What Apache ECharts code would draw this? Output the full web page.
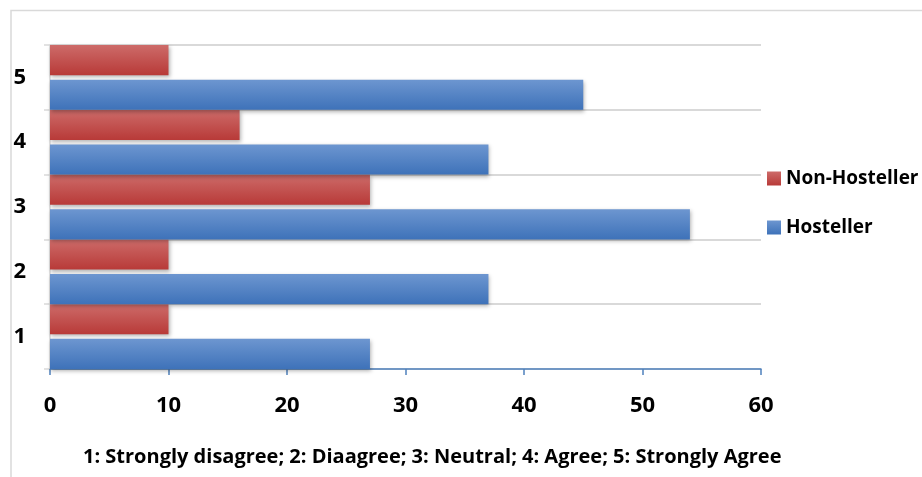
<!DOCTYPE html>
<html>
<head>
<meta charset="utf-8">
<script src="https://cdn.jsdelivr.net/npm/echarts@6/dist/echarts.min.js"></script>
<style>
html,body{margin:0;padding:0;background:#fff;}
#chart{width:922px;height:477px;}
</style>
</head>
<body>
<div id="chart"></div>
<script>
const categories=['1','2','3','4','5'];
const hosteller=[27,37,54,37,45];
const nonHosteller=[10,10,27,16,10];
const xTicks=[0,10,20,30,40,50,60];
const footnote='1: Strongly disagree; 2: Diaagree; 3: Neutral; 4: Agree; 5: Strongly Agree';

const fontName='Open Sans';
const gridColor='#d9d9d9';
const blueAxis='#4f81bd';

const grad=(top,bottom)=>new echarts.graphic.LinearGradient(0,0,0,1,[
    {offset:0,color:top},
    {offset:1,color:bottom}
]);

var myChart=echarts.init(document.getElementById('chart'));
var option={
    backgroundColor:'#fff',
    animation:false,
    textStyle:{fontFamily:fontName},
    title:{
        text:footnote,
        left:78,
        top:442,
        textStyle:{fontSize:20,fontWeight:'bold',color:'#000',fontFamily:fontName}
    },
    graphic:[{
        type:'polyline',
        shape:{points:[[11,477],[11,10.5],[922,10.5]]},
        style:{stroke:gridColor,lineWidth:1.5,fill:null},
        silent:true
    }],
    legend:{
        orient:'vertical',
        left:762,
        top:164,
        itemWidth:14,
        itemHeight:14,
        itemGap:30,
        icon:'rect',
        data:['Non-Hosteller','Hosteller'],
        textStyle:{fontSize:19,fontWeight:'bold',color:'#000',fontFamily:fontName}
    },
    grid:{left:50,right:161,top:45,bottom:108},
    xAxis:{
        type:'value',
        min:xTicks[0],
        max:xTicks[xTicks.length-1],
        interval:10,
        axisLine:{show:true,lineStyle:{color:blueAxis,width:1.5}},
        axisTick:{show:true,length:6,lineStyle:{color:blueAxis,width:1.5}},
        splitLine:{show:false},
        axisLabel:{fontSize:22,fontWeight:'bold',color:'#000',margin:26,fontFamily:fontName}
    },
    yAxis:{
        type:'category',
        data:categories,
        axisLine:{show:true,lineStyle:{color:gridColor,width:1.5}},
        axisTick:{show:true,length:6,lineStyle:{color:gridColor,width:1.5}},
        splitLine:{show:true,lineStyle:{color:gridColor,width:2}},
        axisLabel:{fontSize:22,fontWeight:'bold',color:'#000',margin:24,fontFamily:fontName}
    },
    series:[{
        name:'Non-Hosteller',
        type:'bar',
        data:nonHosteller,
        barGap:'15%',
        barCategoryGap:'0%',
        itemStyle:{
            color:grad('#cd6b69','#b83a38'),
            shadowColor:'rgba(0,0,0,0.3)',
            shadowBlur:4,
            shadowOffsetX:1,
            shadowOffsetY:2
        }
    },{
        name:'Hosteller',
        type:'bar',
        data:hosteller,
        barGap:'15%',
        barCategoryGap:'0%',
        itemStyle:{
            color:grad('#6d96d0','#3e72b9'),
            shadowColor:'rgba(0,0,0,0.3)',
            shadowBlur:4,
            shadowOffsetX:1,
            shadowOffsetY:2
        }
    }]
};
myChart.setOption(option);
</script>
</body>
</html>
